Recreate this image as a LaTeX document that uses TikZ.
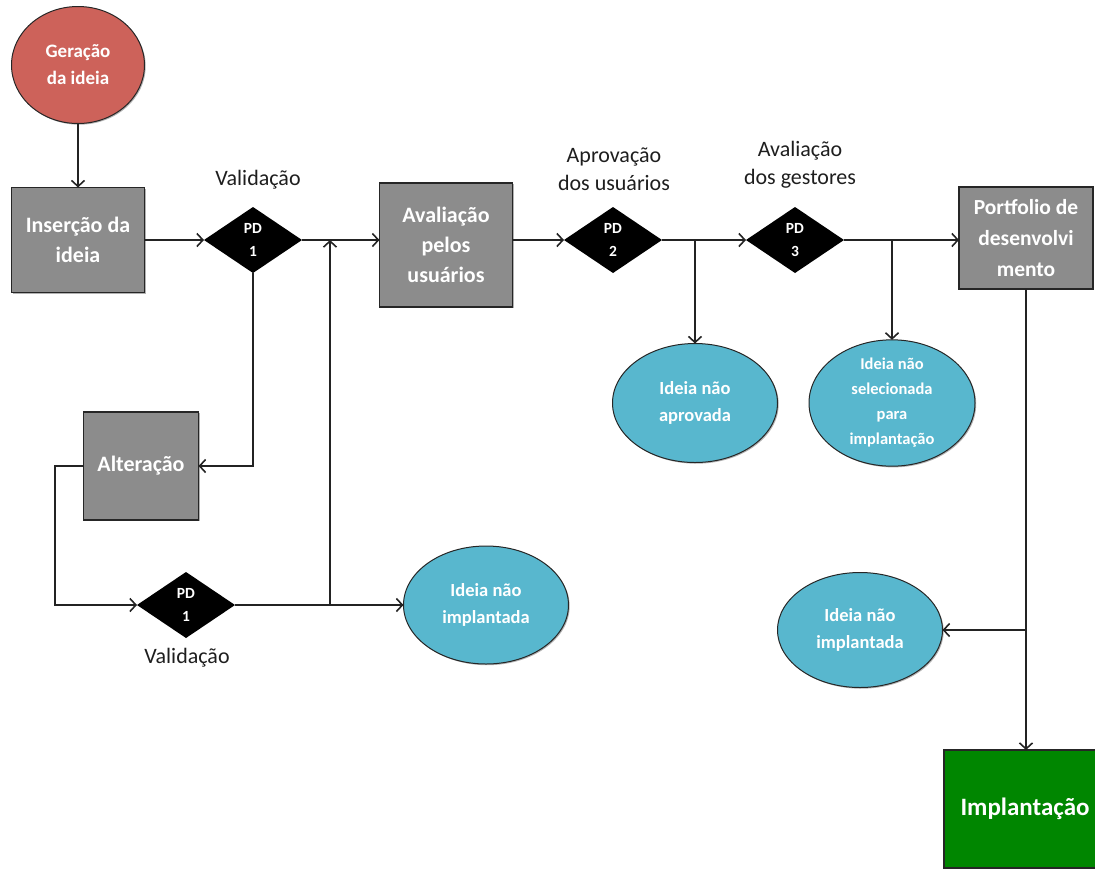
\documentclass[tikz,border=0pt]{standalone}
\usepackage{fontspec}
\setmainfont{Carlito}
\usetikzlibrary{arrows.meta,shapes.geometric,shadows}

\definecolor{ideared}{RGB}{205,98,90}
\definecolor{boxgray}{RGB}{140,140,140}
\definecolor{endblue}{RGB}{88,183,206}
\definecolor{golive}{RGB}{0,134,0}
\definecolor{linegray}{RGB}{35,35,35}
\definecolor{labelgray}{RGB}{30,30,30}

\tikzset{
  every node/.style={inner sep=0pt, outer sep=0pt},
  softshadow/.style={drop shadow={shadow xshift=1.2pt, shadow yshift=-1.2pt, opacity=0.3, fill=black}},
  procbox/.style={rectangle, draw=black!85, line width=1.1pt, fill=boxgray, text=white,
    align=center, softshadow, font=\fontsize{22}{30}\selectfont\bfseries},
  endoval/.style={ellipse, draw=black!85, line width=1pt, fill=endblue, text=white,
    align=center, softshadow, font=\fontsize{18.5}{27}\selectfont\bfseries},
  gate/.style={diamond, fill=black, text=white, align=center,
    minimum width=98pt, minimum height=66pt, font=\fontsize{15.5}{23}\selectfont\bfseries},
  caption/.style={text=labelgray, align=center, font=\fontsize{22}{28}\selectfont},
  arr/.style={draw=linegray, line width=1.3pt,
    -{Straight Barb[length=6pt, width=13pt, line width=1.6pt]}},
}

\begin{document}
\begin{tikzpicture}[x=1pt, y=-1pt]
  \useasboundingbox (0,0) rectangle (1095,871);

  % start of the flow
  \node[ellipse, draw=black!85, line width=1pt, fill=ideared, text=white, align=center,
        softshadow, minimum width=133pt, minimum height=117pt,
        font=\fontsize{19}{27}\selectfont\bfseries]
        (gen) at (78,65) {Geração\\da ideia};

  % process boxes
  \node[procbox, minimum width=133pt, minimum height=105pt] (ins) at (78,240) {Inserção da\\ideia};
  \node[procbox, minimum width=133pt, minimum height=124pt] (ava) at (446,245) {Avaliação\\pelos\\usuários};
  \node[procbox, minimum width=115pt, minimum height=108pt] (alt) at (141,466) {Alteração};
  \node[procbox, minimum width=134pt, minimum height=102pt,
        font=\fontsize{21.5}{31}\selectfont\bfseries] (port) at (1026,238) {Portfolio de\\desenvolvi\\mento};
  \node[procbox, fill=golive, minimum width=162pt, minimum height=118pt,
        font=\fontsize{25}{30}\selectfont\bfseries] (impl) at (1025,809) {Implantação};

  % decision points
  \node[gate] (pd1) at (253,240) {PD\\1};
  \node[gate] (pd1b) at (186,605) {PD\\1};
  \node[gate] (pd2) at (613,240) {PD\\2};
  \node[gate] (pd3) at (795,240) {PD\\3};

  % captions of the decision points
  \node[caption] (cap1) at (258,180) {Validação};
  \node[caption] (cap1b) at (187,658) {Validação};
  \node[caption] (cap2) at (614,169) {Aprovação\\dos usuários};
  \node[caption] (cap3) at (800,165) {Avaliação\\dos gestores};

  % rejected outcomes
  \node[endoval, minimum width=165pt, minimum height=118pt] (ni1) at (486,605) {Ideia não\\implantada};
  \node[endoval, minimum width=165pt, minimum height=119pt] (ne1) at (695,403) {Ideia não\\aprovada};
  \node[endoval, minimum width=166pt, minimum height=119pt,
        font=\fontsize{16.5}{25}\selectfont\bfseries] (ns) at (892,403) {Ideia não\\selecionada\\para\\implantação};
  \node[endoval, minimum width=165pt, minimum height=115pt] (ni2) at (860,630) {Ideia não\\implantada};

  % helper points
  \coordinate (loopx) at (55,466);
  \coordinate (j1) at (330,605);

  % connectors
  \draw[arr] (gen.south) -- (gen.south |- ins.north);
  \draw[arr] (ins.east) -- (pd1.west);
  \draw[arr] (pd1.east) -- (pd1.east -| ava.west);
  \draw[arr] (pd1.south) |- (alt.east);
  \draw[arr] (alt.west) -- (loopx) |- (pd1b.west);
  \draw[arr] (pd1b.east) -- (ni1.west);
  \draw[arr] (j1) -- (j1 |- pd1.east);
  \draw[arr] (ava.east |- pd2.west) -- (pd2.west);
  \draw[arr] (pd2.east) -- (pd3.west);
  \draw[arr] (ne1.north |- pd2.east) -- (ne1.north);
  \draw[arr] (pd3.east) -- (pd3.east -| port.west);
  \draw[arr] (ns.north |- pd3.east) -- (ns.north);
  \draw[arr] (port.south) -- (port.south |- impl.north);
  \draw[arr] (port.south |- ni2.east) -- (ni2.east);
\end{tikzpicture}
\end{document}
